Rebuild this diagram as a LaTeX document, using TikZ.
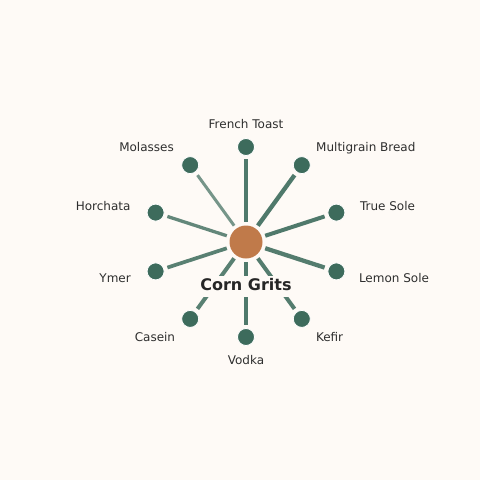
\documentclass[tikz,border=0pt]{standalone}
\usepackage{fontspec}
\setmainfont{DejaVu Sans}
\definecolor{bg}{HTML}{FEFAF6}
\definecolor{leafgreen}{HTML}{3D6B5C}
\definecolor{hubcol}{HTML}{C07A4A}
\definecolor{txt}{HTML}{2E2E2E}
\begin{document}
\begin{tikzpicture}[x=1pt,y=-1pt,
  hub/.style={circle,fill=hubcol,inner sep=0pt,minimum size=33pt},
  leaf/.style={circle,fill=leafgreen,draw=white,line width=0.8pt,inner sep=0pt,minimum size=17pt},
  spokeline/.style={draw=leafgreen,shorten <=3.5pt,shorten >=3.5pt},
  lbl/.style={text=txt,inner sep=0pt,font=\fontsize{12}{14}\selectfont},
  title/.style={text=black!85,fill=bg,inner xsep=4pt,inner ysep=2.5pt,text height=12.5pt,text depth=3.8pt,font=\bfseries\fontsize{16}{19}\selectfont}]
\fill[bg] (0,0) rectangle (480,480);
\useasboundingbox (0,0) rectangle (480,480);
\node[hub] (c) at (246,242) {};
\node[leaf] (n0) at (246,147) {};
\node[leaf] (n1) at (301.8,165.1) {};
\node[leaf] (n2) at (336.4,212.6) {};
\node[leaf] (n3) at (336.4,271.4) {};
\node[leaf] (n4) at (301.8,318.9) {};
\node[leaf] (n5) at (246,337) {};
\node[leaf] (n6) at (190.2,318.9) {};
\node[leaf] (n7) at (155.6,271.4) {};
\node[leaf] (n8) at (155.6,212.6) {};
\node[leaf] (n9) at (190.2,165.1) {};
\draw[spokeline,line width=4.5pt,draw opacity=0.9] (c) -- (n0);
\draw[spokeline,line width=4.3pt,draw opacity=0.9] (c) -- (n1);
\draw[spokeline,line width=4pt,draw opacity=0.9] (c) -- (n2);
\draw[spokeline,line width=4.3pt,draw opacity=0.88] (c) -- (n3);
\draw[spokeline,line width=4pt,draw opacity=0.88] (c) -- (n4);
\draw[spokeline,line width=4pt,draw opacity=0.9] (c) -- (n5);
\draw[spokeline,line width=4pt,draw opacity=0.85] (c) -- (n6);
\draw[spokeline,line width=3.7pt,draw opacity=0.85] (c) -- (n7);
\draw[spokeline,line width=3.3pt,draw opacity=0.8] (c) -- (n8);
\draw[spokeline,line width=3pt,draw opacity=0.7] (c) -- (n9);
\node[title,anchor=base] (t) at (246,290.7) {Corn Grits};
\node[lbl,anchor=base] (l0) at (246,128.5) {French Toast};
\node[lbl,anchor=base west] (l1) at (316,151) {Multigrain Bread};
\node[lbl,anchor=base west] (l2) at (359.8,210.7) {True Sole};
\node[lbl,anchor=base west] (l3) at (358.8,282.7) {Lemon Sole};
\node[lbl,anchor=base west] (l4) at (315.8,341) {Kefir};
\node[lbl,anchor=base] (l5) at (246,364) {Vodka};
\node[lbl,anchor=base east] (l6) at (175.3,341) {Casein};
\node[lbl,anchor=base east] (l7) at (131,282.7) {Ymer};
\node[lbl,anchor=base east] (l8) at (130.6,210.7) {Horchata};
\node[lbl,anchor=base east] (l9) at (174,151) {Molasses};
\end{tikzpicture}
\end{document}
